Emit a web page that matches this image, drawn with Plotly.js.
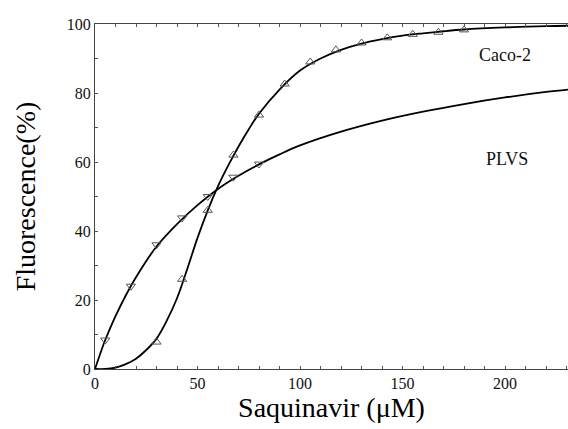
<!DOCTYPE html>
<html><head><meta charset="utf-8">
<script src="https://cdn.plot.ly/plotly-3.0.1.min.js"></script>
<style>html,body{margin:0;padding:0;background:#fff}#chart{width:568px;height:429px}</style>
</head><body><div id="chart"></div>
<script>
// Measured points
const plvsX = [5, 17.5, 30, 42.5, 55, 67.5, 80];
const plvsY = [8.4, 24, 36, 43.8, 50, 55.6, 59.4];
const cacoX = [30, 42.5, 55, 67.5, 80, 92.5, 105, 117.5, 130, 142.5, 155, 167.5, 180];
const cacoY = [7.8, 26, 46, 62, 73.6, 82.6, 89, 92.5, 94.5, 96, 97, 97.6, 98.3];
// Fitted curves
const plvsFitX = [0, 2, 5, 10, 15, 20, 30, 40, 50, 60, 70, 80, 90, 100, 120, 140, 160, 180, 200, 220, 231];
const plvsFitY = [0, 3.5, 8.4, 15.3, 21.3, 26.6, 35.5, 42, 47.5, 52.2, 56, 59.3, 62.2, 64.8, 68.8, 72, 74.6, 76.8, 78.7, 80.3, 81];
const cacoFitX = [0, 5, 10, 15, 20, 25, 30, 35, 40, 45, 50, 55, 60, 65, 70, 75, 80, 90, 100, 110, 120, 130, 140, 150, 160, 170, 180, 200, 220, 231];
const cacoFitY = [0, 0, 0.4, 1.4, 3, 5.5, 8.8, 14, 20.5, 29, 38, 46, 53, 59, 64.5, 69.5, 74, 81, 86.5, 90, 92.5, 94.3, 95.6, 96.6, 97.3, 97.9, 98.4, 99, 99.4, 99.5];
const labels = ["Caco-2", "PLVS"];

const serif = "'Liberation Serif'";
const traces = [
  {x: cacoFitX, y: cacoFitY, mode: "lines", line: {color: "#000", width: 1.8, shape: "spline"}, hoverinfo: "skip"},
  {x: plvsFitX, y: plvsFitY, mode: "lines", line: {color: "#000", width: 1.8, shape: "spline"}, hoverinfo: "skip"},
  {x: cacoX, y: cacoY, mode: "markers", marker: {symbol: "triangle-up-open", size: 8, color: "#555", line: {width: 1}}},
  {x: plvsX, y: plvsY, mode: "markers", marker: {symbol: "triangle-down-open", size: 8, color: "#555", line: {width: 1}}}
];
const axisCommon = {
  showgrid: false, zeroline: false, showline: true, linecolor: "#444", linewidth: 1,
  ticks: "inside", ticklen: 3, tickcolor: "#555",
  tickfont: {family: serif, size: 16, color: "#111"}
};
const layout = {
  width: 568, height: 429,
  margin: {l: 95, r: 0, t: 24, b: 60},
  paper_bgcolor: "#fff", plot_bgcolor: "#fff",
  showlegend: false,
  xaxis: Object.assign({}, axisCommon, {
    range: [0, 230.7], dtick: 50, tick0: 0, mirror: "ticks",
    minor: {dtick: 10, ticks: "inside", ticklen: 3, tickcolor: "#555"},
    title: {text: "Saquinavir (μM)", font: {family: serif, size: 28, color: "#000"}, standoff: 6}
  }),
  yaxis: Object.assign({}, axisCommon, {
    range: [0, 100], dtick: 20, tick0: 0,
    minor: {dtick: 10, ticks: "inside", ticklen: 3, tickcolor: "#555"},
    title: {text: "Fluorescence(%)", font: {family: serif, size: 28, color: "#000"}, standoff: 22}
  }),
  annotations: [
    {x: 200, y: 91, xref: "x", yref: "y", text: labels[0], showarrow: false, font: {family: serif, size: 18, color: "#111"}},
    {x: 201, y: 61, xref: "x", yref: "y", text: labels[1], showarrow: false, font: {family: serif, size: 18, color: "#111"}}
  ]
};
Plotly.newPlot("chart", traces, layout, {displayModeBar: false, staticPlot: true});
</script></body></html>
